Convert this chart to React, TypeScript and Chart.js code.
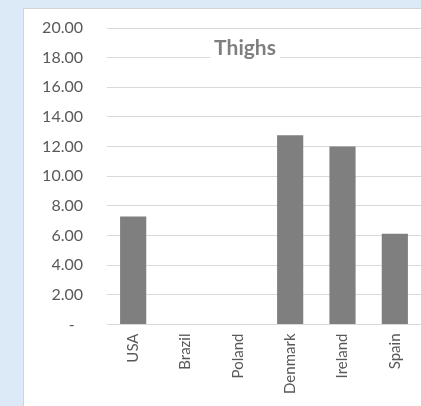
import React, { useEffect, useRef } from "react";
import { Chart, registerables } from "chart.js";

Chart.register(...registerables);

const categories = ["USA", "Brazil", "Poland", "Denmark", "Ireland", "Spain"];
const thighs = [7.28, 0, 0, 12.77, 12.0, 6.12];
const chartTitle = "Thighs";
const yMin = 0;
const yMax = 20;
const yStep = 2;

const FONT = "Lato, 'Open Sans', sans-serif";

const titlePlugin = {
  id: "boxTitle",
  afterDraw(chart: any) {
    const ctx = chart.ctx;
    ctx.save();
    ctx.font = `bold 21px ${FONT}`;
    const w = ctx.measureText(chartTitle).width;
    const cx = 245;
    const baseline = 55;
    ctx.fillStyle = "#ffffff";
    ctx.fillRect(cx - w / 2 - 4, baseline - 18, w + 8, 24);
    ctx.fillStyle = "#7f7f7f";
    ctx.textAlign = "center";
    ctx.textBaseline = "alphabetic";
    ctx.fillText(chartTitle, cx, baseline);
    ctx.restore();
  },
};

export default function App() {
  const ref = useRef<HTMLCanvasElement | null>(null);
  useEffect(() => {
    document.body.style.overflow = "hidden";
    if (!ref.current) return;
    const chart = new Chart(ref.current, {
      type: "bar",
      data: {
        labels: categories,
        datasets: [
          {
            label: chartTitle,
            data: thighs,
            backgroundColor: "#7f7f7f",
            borderWidth: 0,
            categoryPercentage: 1,
            barPercentage: 0.5,
          },
        ],
      },
      options: {
        responsive: false,
        animation: false,
        maintainAspectRatio: false,
        layout: { padding: { left: 0, right: -2, top: 28, bottom: 0 } },
        plugins: {
          legend: { display: false },
          title: { display: false },
          tooltip: { enabled: false },
        },
        scales: {
          x: {
            grid: { display: false, drawTicks: false },
            border: { display: true, color: "#d9d9d9", width: 1 },
            ticks: {
              minRotation: 90,
              maxRotation: 90,
              padding: 9,
              color: "#595959",
              font: { family: FONT, size: 15 },
            },
            afterFit(scale: any) {
              scale.height = 81.5;
              scale.paddingLeft = 0;
              scale.paddingRight = 0;
              scale.paddingTop = 0;
              scale.paddingBottom = 0;
            },
          },
          y: {
            min: yMin,
            max: yMax,
            grid: { color: "#d9d9d9", lineWidth: 1, drawTicks: false },
            border: { display: false },
            ticks: {
              stepSize: yStep,
              padding: 24,
              color: "#595959",
              font: { family: FONT, size: 16 },
              callback: (v: any) => (Number(v) === 0 ? "-  " : Number(v).toFixed(2)),
            },
            afterFit(scale: any) {
              scale.width = 107;
              scale.paddingLeft = 0;
              scale.paddingRight = 0;
              scale.paddingTop = 0;
              scale.paddingBottom = 0;
            },
          },
        },
      },
      plugins: [titlePlugin],
    });
    return () => chart.destroy();
  }, []);

  return (
    <div
      style={{
        position: "fixed",
        left: 0,
        top: 0,
        width: 421,
        height: 406,
        background: "#dce9f6",
        overflow: "hidden",
      }}
    >
      <div
        style={{
          position: "absolute",
          left: 23,
          top: 8,
          width: 500,
          height: 500,
          background: "#ffffff",
          borderLeft: "1px solid #d4d4d4",
          borderTop: "1px solid #d4d4d4",
        }}
      />
      <canvas
        ref={ref}
        width={421}
        height={406}
        style={{ position: "absolute", left: 0, top: 0, width: 421, height: 406 }}
      />
    </div>
  );
}
